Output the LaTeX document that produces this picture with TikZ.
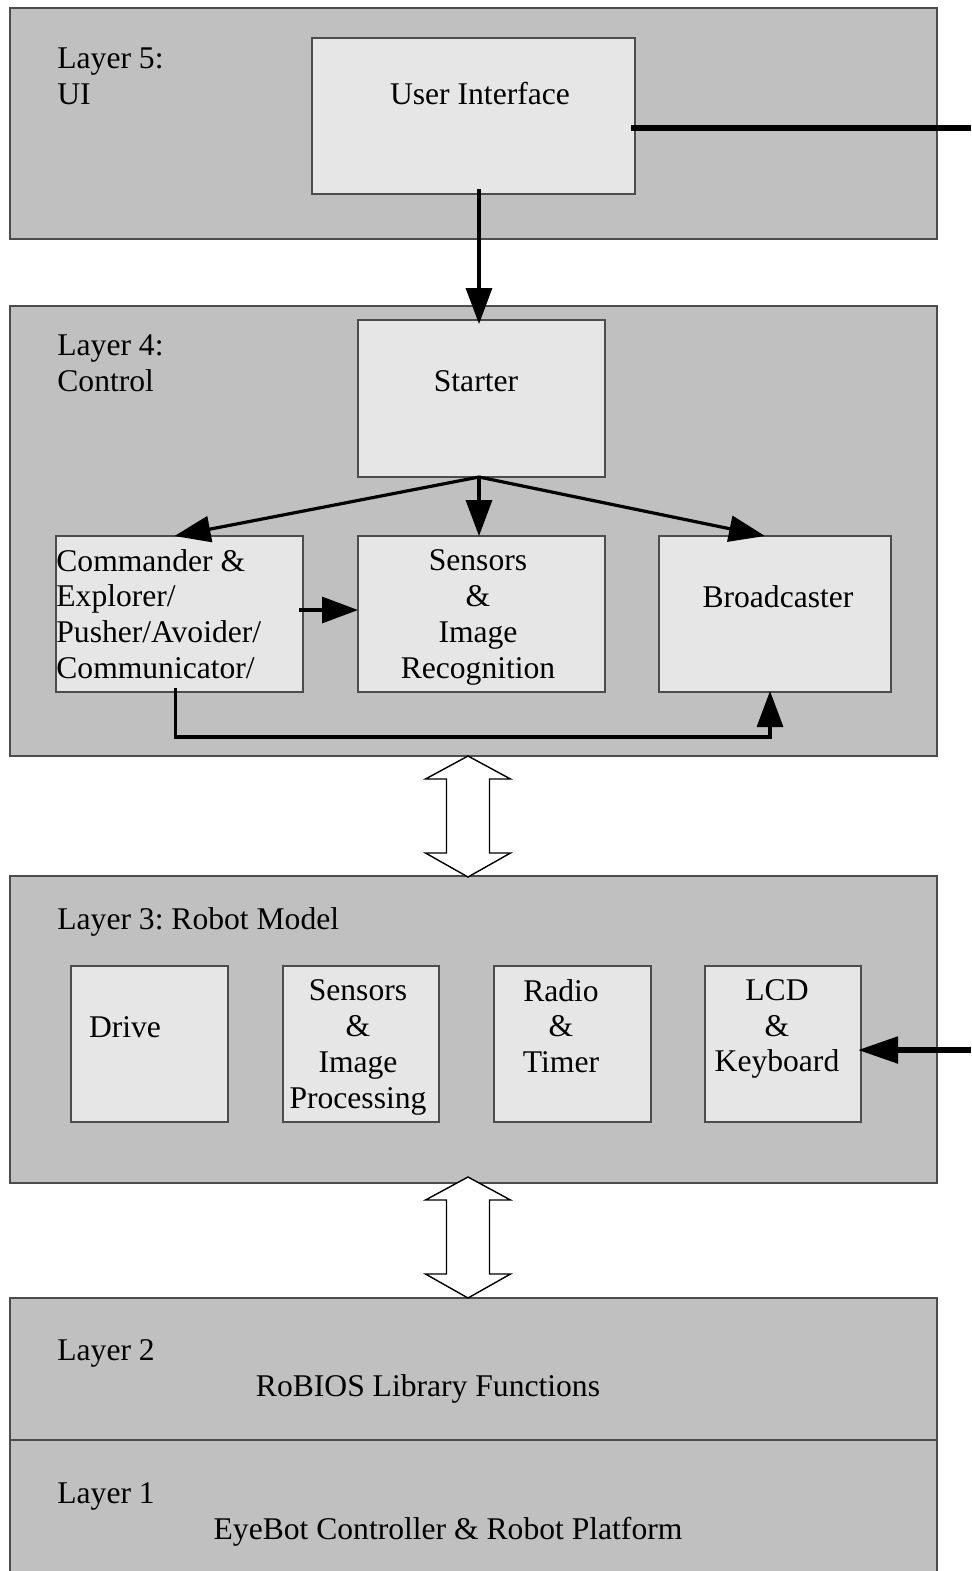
\documentclass[tikz,border=0pt]{standalone}
\usepackage{fontspec}
\setmainfont{Liberation Serif}
\frenchspacing
\usetikzlibrary{arrows.meta,positioning,calc}
\definecolor{layergray}{gray}{0.753}
\definecolor{boxgray}{gray}{0.902}
\tikzset{
 >={Triangle[length=18pt,width=13pt]},
 layer/.style={draw=black!70,fill=layergray,line width=0.6pt,minimum width=463.5pt,inner sep=0pt,outer sep=0pt},
 module/.style={draw=black!70,fill=boxgray,line width=0.6pt,inner sep=0pt,outer sep=0pt},
 txt/.style={inner sep=0pt,font=\fontsize{15.8}{17.9}\selectfont},
 link/.style={->,line width=1.6pt,line join=miter},
 bus/.style={line width=2.6pt},
 updown/.style={draw=black,fill=white,line width=0.7pt,line join=miter}
}

\begin{document}
\begin{tikzpicture}[x=0.5pt,y=-0.5pt]
\useasboundingbox (0,0) rectangle (971,1571);

% layers
\path (473.5,123.5) node[layer,minimum height=115.5pt,name=L5] {};
\path (473.5,531) node[layer,minimum height=225pt,name=L4] {};
\path (473.5,1029.5) node[layer,minimum height=153.5pt,name=L3] {};
\path (473.5,1369) node[layer,minimum height=71pt,name=L2] {};
\path (473.5,1510) node[layer,minimum height=70pt,name=L1] {};

% modules
\path (473.5,116) node[module,minimum width=161.5pt,minimum height=78pt,name=UI] {};
\path (481.5,398.5) node[module,minimum width=123.5pt,minimum height=78.5pt,name=St] {};
\path (179.5,614) node[module,minimum width=123.5pt,minimum height=78pt,name=Cmd] {};
\path (481.5,614) node[module,minimum width=123.5pt,minimum height=78pt,name=SIR] {};
\path (775,614) node[module,minimum width=116pt,minimum height=78pt,name=Bc] {};
\path (149.5,1044) node[module,minimum width=78.5pt,minimum height=78pt,name=Drv] {};
\path (361,1044) node[module,minimum width=78pt,minimum height=78pt,name=SIP] {};
\path (572.5,1044) node[module,minimum width=78.5pt,minimum height=78pt,name=RT] {};
\path (783,1044) node[module,minimum width=78pt,minimum height=78pt,name=LCD] {};

% texts
\path (57,76.5) node[txt,anchor=west,align=left,name=t5] {Layer 5:\\UI};
\path (480,94) node[txt,name=tUI] {User Interface};
\path (57,363) node[txt,anchor=west,align=left,name=t4] {Layer 4:\\Control};
\path (476,381) node[txt,name=tSt] {Starter};
\path (56,614) node[txt,anchor=west,align=left,name=tCmd] {Commander \&\\Explorer/\\Pusher/Avoider/\\Communicator/};
\path (478,617.5) node[txt,align=center,name=tSIR] {Sensors\\\&\\Image\\Recognition};
\path (778,597) node[txt,name=tBc] {Broadcaster};
\path (57,922) node[txt,anchor=west,name=t3] {Layer 3: Robot Model};
\path (125,1027) node[txt,name=tDrv] {Drive};
\path (358,1047.5) node[txt,align=center,name=tSIP] {Sensors\\\&\\Image\\Processing};
\path (561,1026) node[txt,align=center,name=tRT] {Radio\\\&\\Timer};
\path (777,1029) node[txt,align=center,name=tLCD] {LCD\\\&\\Keyboard};
\path (57,1353) node[txt,anchor=west,name=t2] {Layer 2};
\path (428,1389) node[txt,name=tRB] {RoBIOS Library Functions};
\path (57,1496) node[txt,anchor=west,name=t1] {Layer 1};
\path (448,1532) node[txt,name=tEB] {EyeBot Controller \& Robot Platform};

% connectors
\coordinate (uiout) at (971,128);
\coordinate (lcdin) at (971,1050);
\draw[bus] ($(uiout -| UI.east)+(-4,0)$) -- (uiout);
\draw[bus,-{Triangle[length=20pt,width=13pt]}] (lcdin) -- ($(lcdin -| LCD.east)+(-3,0)$);

\draw[link] ($(UI.south)+(5.5,-5)$) -- ($(St.north)+(-2.5,4)$);
\coordinate (fan) at ($(St.south)+(-2.5,0)$);
\draw[link] (fan) -- ($(Cmd.north)+(-5,0)$);
\draw[link] (fan) -- (fan |- SIR.north);
\draw[link] (fan) -- ($(Bc.north)+(-10,0)$);
\draw[link] ($(Cmd.east)+(-4,-4)$) -- ($(SIR.west)+(0,-4)$);
\draw[link] ($(Cmd.south)+(-4,-4)$) -- ++(0,49) -| ($(Bc.south)+(-5,-1)$);

% layer interfaces
\coordinate (d43) at (468,756);
\coordinate (d32) at (468,1177);
\draw[updown] (d43) -- ++(42.5,23) -- ++(-21,0) -- ++(0,74) -- ++(21,0) -- ++(-42.5,24)
 -- ++(-42.5,-24) -- ++(21,0) -- ++(0,-74) -- ++(-21,0) -- cycle;
\draw[updown] (d32) -- ++(42.5,23) -- ++(-21,0) -- ++(0,74) -- ++(21,0) -- ++(-42.5,24)
 -- ++(-42.5,-24) -- ++(21,0) -- ++(0,-74) -- ++(-21,0) -- cycle;
\end{tikzpicture}
\end{document}
